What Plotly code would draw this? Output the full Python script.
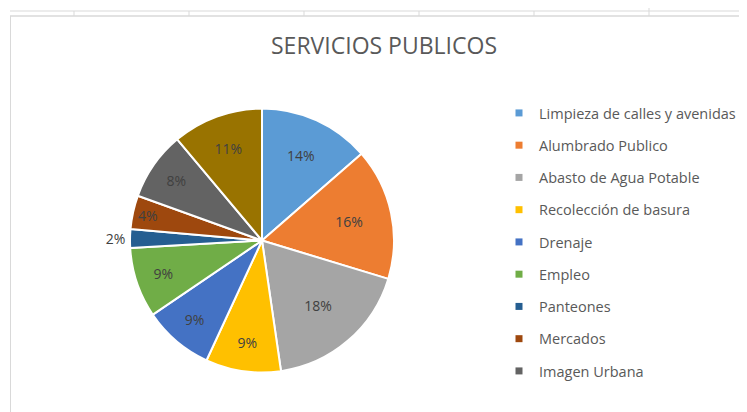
import plotly.graph_objects as go

# ---- data ----
categorias = ["Limpieza de calles y avenidas", "Alumbrado Publico", "Abasto de Agua Potable",
              "Recolección de basura", "Drenaje", "Empleo", "Panteones", "Mercados",
              "Imagen Urbana", "Otros"]
valores = [13.6, 16.1, 18.0, 9.2, 8.6, 8.6, 2.3, 4.1, 8.4, 11.1]
colores = ["#5B9BD5", "#ED7D31", "#A5A5A5", "#FFC000", "#4472C4", "#70AD47",
           "#255E91", "#9E480E", "#636363", "#997300"]
titulo = "SERVICIOS PUBLICOS"
n_leyenda = 9  # the reference legend only shows the first nine entries

W, H = 747, 412
OFF = 8  # page body margin
FONT = "Open Sans"
TXT = "#595959"


def fx(x):
    return (x - OFF) / W


def fy(y):
    return (H - (y - OFF)) / H


fig = go.Figure()
posiciones = ["outside" if v < 3 else "inside" for v in valores]
fig.add_trace(go.Pie(
    labels=categorias, values=valores, sort=False, direction="clockwise", rotation=0,
    marker=dict(colors=colores, line=dict(color="white", width=2)),
    texttemplate="%{percent:.0%}", textposition=posiciones,
    insidetextorientation="horizontal",
    textfont=dict(family=FONT, size=14, color="#404040"),
    outsidetextfont=dict(family=FONT, size=14, color="#404040"),
    domain=dict(x=[fx(130), fx(394)], y=[fy(373), fy(108)]),
    showlegend=False, hoverinfo="label+percent",
))

for i in range(n_leyenda):
    fig.add_trace(go.Scatter(
        x=[None], y=[None], mode="markers", name=categorias[i],
        marker=dict(symbol="square", size=7, color=colores[i]),
        legendgroup=f"g{i}", showlegend=True,
    ))

shapes = []
grid = "#D9D9D9"
shapes.append(dict(type="line", xref="paper", yref="paper", x0=fx(10), x1=1, y0=fy(11), y1=fy(11),
                   line=dict(color=grid, width=1)))
shapes.append(dict(type="line", xref="paper", yref="paper", x0=fx(10), x1=1, y0=fy(16), y1=fy(16),
                   line=dict(color=grid, width=1.5)))
for xc in [74, 189, 304, 419, 534]:
    shapes.append(dict(type="line", xref="paper", yref="paper", x0=fx(xc), x1=fx(xc),
                       y0=fy(16), y1=fy(11), line=dict(color=grid, width=1)))
shapes.append(dict(type="line", xref="paper", yref="paper", x0=fx(649), x1=fx(649),
                   y0=fy(16), y1=fy(5), line=dict(color=grid, width=1)))
shapes.append(dict(type="line", xref="paper", yref="paper", x0=fx(10.5), x1=fx(10.5),
                   y0=0, y1=fy(16), line=dict(color=grid, width=1)))

fig.update_layout(
    width=W, height=H, margin=dict(l=0, r=0, t=0, b=0),
    paper_bgcolor="white", plot_bgcolor="white",
    title=dict(text=titulo, x=fx(384), xanchor="center", y=fy(46), yanchor="middle",
               font=dict(family=FONT, size=23, color=TXT)),
    xaxis=dict(visible=False), yaxis=dict(visible=False),
    legend=dict(x=fx(499), xanchor="left", y=fy(97), yanchor="top",
                font=dict(family=FONT, size=14.5, color=TXT),
                tracegroupgap=10.4, bgcolor="rgba(0,0,0,0)"),
    shapes=shapes,
)

fig.write_html("out.html")
